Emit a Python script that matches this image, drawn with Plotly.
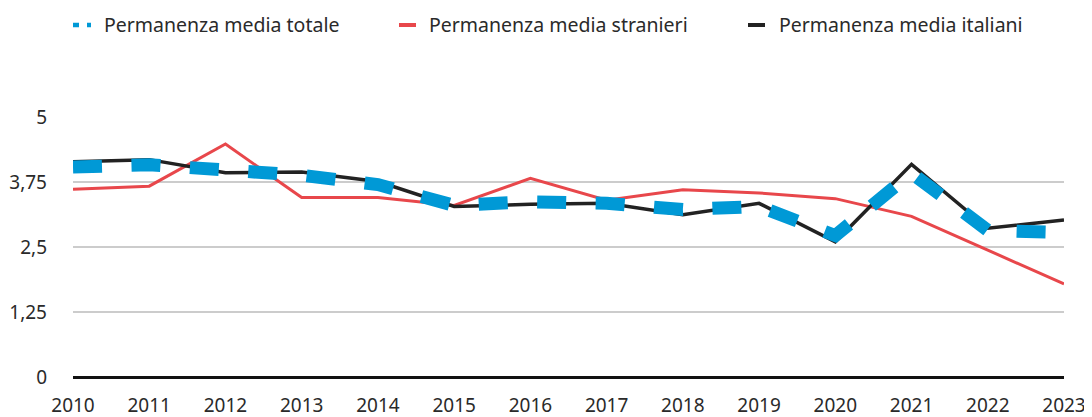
import plotly.graph_objects as go

years = list(range(2010, 2024))
totale = [4.04, 4.08, 3.98, 3.88, 3.70, 3.30, 3.37, 3.34, 3.22, 3.28, 2.72, 3.92, 2.82, 2.78]
stranieri = [3.61, 3.67, 4.48, 3.45, 3.45, 3.30, 3.82, 3.40, 3.60, 3.54, 3.43, 3.09, 2.44, 1.79]
italiani = [4.14, 4.18, 3.93, 3.94, 3.76, 3.28, 3.32, 3.34, 3.12, 3.34, 2.60, 4.09, 2.86, 3.02]
y_ticks = [0, 1.25, 2.5, 3.75, 5]
y_ticktext = ["0", "1,25", "2,5", "3,75", "5"]

names = ["Permanenza media totale", "Permanenza media stranieri", "Permanenza media italiani"]
BLUE = "#0099D6"
RED = "#E8474B"
BLACK = "#222222"
FONT = "Noto Sans"
FS = 19
TXT = "#2a2a2a"

# page body has an 8px margin: figure occupies page x 8..1092, y 8..417
W, H = 1084, 409
ML, MR, MT, MB = 65, 28, 109, 40
PX0, PX1 = 8 + ML, 8 + W - MR      # plot area in page px (73..1064)
PY0, PY1 = 8 + MT, 8 + H - MB      # (117..377)


def px2paper_x(px):
    return (px - PX0) / (PX1 - PX0)


def py2paper_y(py):
    return (PY1 - py) / (PY1 - PY0)


fig = go.Figure()
fig.add_trace(go.Scatter(x=years, y=stranieri, mode="lines", line=dict(color=RED, width=3),
                         showlegend=False, hoverinfo="skip"))
fig.add_trace(go.Scatter(x=years, y=italiani, mode="lines", line=dict(color=BLACK, width=3.5),
                         showlegend=False, hoverinfo="skip"))
fig.add_trace(go.Scatter(x=years, y=totale, mode="lines", line=dict(color=BLUE, width=13, dash="29px,29.5px"),
                         showlegend=False, hoverinfo="skip"))

# legend entries (text via native legends, short symbols drawn as shapes)
for nm, lg in zip(names, ["legend", "legend2", "legend3"]):
    fig.add_trace(go.Scatter(x=[None], y=[None], mode="lines", name=nm,
                             line=dict(color="rgba(0,0,0,0)", width=0), legend=lg))

leg_y = 25
leg = dict(yref="container", xref="container", y=(8 + H - leg_y) / H, yanchor="middle", xanchor="left",
           orientation="h", font=dict(family=FONT, size=19.5, color=TXT),
           bgcolor="rgba(0,0,0,0)", itemwidth=30, borderwidth=0)
text_starts = [105, 430, 780]
leg_x = [(t - 49) / W for t in text_starts]

sy = py2paper_y(leg_y)
shapes = [
    dict(type="line", xref="paper", yref="paper", x0=px2paper_x(73), x1=px2paper_x(91), y0=sy, y1=sy,
         line=dict(color=BLUE, width=4.5, dash="6px,8px")),
    dict(type="line", xref="paper", yref="paper", x0=px2paper_x(399), x1=px2paper_x(416), y0=sy, y1=sy,
         line=dict(color=RED, width=4)),
    dict(type="line", xref="paper", yref="paper", x0=px2paper_x(748), x1=px2paper_x(765), y0=sy, y1=sy,
         line=dict(color=BLACK, width=4)),
]

fig.update_layout(
    width=W, height=H,
    margin=dict(l=ML, r=MR, t=MT, b=MB, autoexpand=False),
    paper_bgcolor="white", plot_bgcolor="white",
    font=dict(family=FONT, size=FS, color=TXT),
    legend=dict(leg, x=leg_x[0]),
    legend2=dict(leg, x=leg_x[1]),
    legend3=dict(leg, x=leg_x[2]),
    shapes=shapes,
    xaxis=dict(range=[2010, 2023], tickmode="array", tickvals=years, ticktext=[str(y) for y in years],
               showgrid=False, zeroline=False, showline=False, ticks="", ticklabelstandoff=15,
               automargin=False, tickfont=dict(family=FONT, size=FS, color=TXT)),
    yaxis=dict(range=[0, 5], tickmode="array", tickvals=y_ticks, ticktext=y_ticktext,
               showgrid=True, gridcolor="#CCCCCC", gridwidth=1.5,
               zeroline=True, zerolinecolor="#111111", zerolinewidth=2.5,
               showline=False, ticks="", ticklabelstandoff=25, automargin=False,
               tickfont=dict(family=FONT, size=FS, color=TXT)),
)

fig.write_html("out.html")
